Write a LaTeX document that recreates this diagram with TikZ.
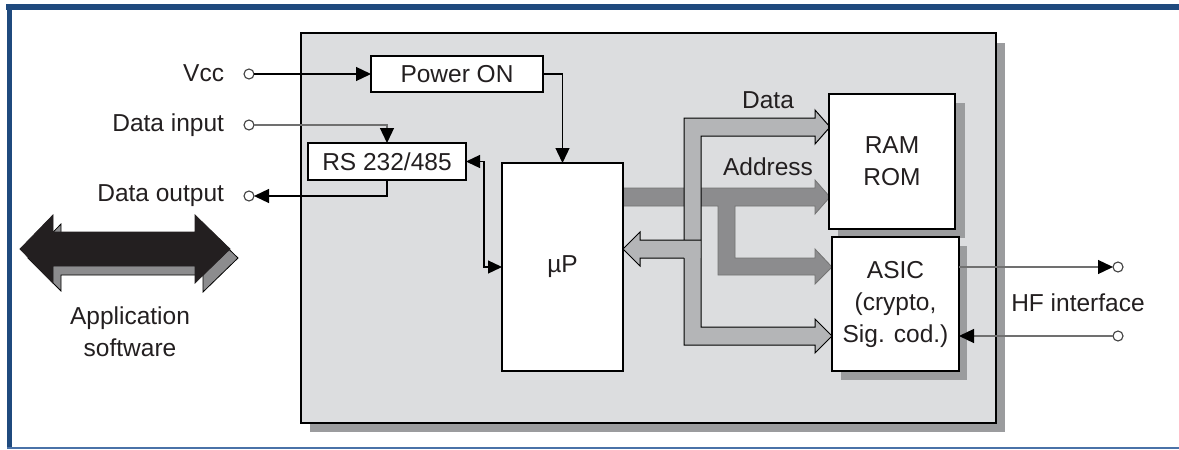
\documentclass[tikz,border=0pt]{standalone}
\usepackage{fontspec}
\setmainfont{Liberation Sans}
\usetikzlibrary{arrows.meta}
\definecolor{frameblue}{HTML}{1F4A7E}
\definecolor{framethin}{HTML}{4A72A8}
\definecolor{boxgrey}{HTML}{DCDDDF}
\definecolor{shadowgrey}{HTML}{9B9C9E}
\definecolor{databus}{HTML}{B4B5B7}
\definecolor{addrbus}{HTML}{8C8C8E}
\definecolor{inkdark}{HTML}{231F20}
\definecolor{wiregrey}{HTML}{707070}
\begin{document}
\begin{tikzpicture}[x=1pt,y=-1pt,
  font=\fontsize{24.5}{32}\selectfont, text=inkdark,
  blk/.style={draw=black, line width=1.3pt, fill=white, inner sep=0pt, outer sep=0pt, align=center},
  port/.style={circle, draw=black!75, line width=1.1pt, fill=white, minimum size=10pt, inner sep=0pt, outer sep=0pt},
  conn/.style={line width=1.3pt, draw=black, -{Triangle[length=15pt,width=14pt]}},
  conngrey/.style={line width=1.3pt, draw=wiregrey, -{Triangle[length=15pt,width=14pt,fill=black,color=black]}},
  lbl/.style={inner sep=0pt, outer sep=0pt}
]
\useasboundingbox (0,0) rectangle (1179,450);
\fill[white] (0,0) rectangle (1179,450);
% frame
\draw[frameblue, line width=6pt] (6,7) -- (1179,7);
\draw[frameblue, line width=5pt] (9.5,4) -- (9.5,448);
\draw[framethin, line width=1.6pt] (7,448) -- (1179,448);
% main grey box
\fill[shadowgrey] (310,43) rectangle (1005,432);
\draw[line width=1.3pt, fill=boxgrey] (301,33) rectangle (996,423);
% shadows of memory / asic
\fill[shadowgrey] (838,103) rectangle (965,238);
\fill[shadowgrey] (841,246) rectangle (967,380);
% address bus
\draw[fill=addrbus, draw=black!55, line width=0.8pt]
  (623,188) -- (815,188) -- (815,180) -- (830,197) -- (815,214) -- (815,206)
  -- (735,206) -- (735,258) -- (815,258) -- (815,249) -- (832,267) -- (815,284)
  -- (815,275) -- (718,275) -- (718,206) -- (623,206) -- cycle;
% data bus trunk
\draw[fill=databus, draw=black, line width=1pt, line join=miter]
  (684,118) -- (815,118) -- (815,110) -- (830,127) -- (815,144) -- (815,136)
  -- (701,136) -- (701,327) -- (815,327) -- (815,319) -- (832,336) -- (815,353)
  -- (815,345) -- (684,345) -- cycle;
% data bus return arrow to uP
\fill[databus] (700.4,240) -- (640,240) -- (640,232) -- (623,249) -- (640,266) -- (640,258) -- (700.4,258) -- cycle;
\draw[black, line width=1pt, line join=miter]
  (701,240) -- (640,240) -- (640,232) -- (623,249) -- (640,266) -- (640,258) -- (684,258);
% application software double arrow
\draw[fill=addrbus, draw=black, line width=0.8pt, line join=miter]
  (28,258) -- (61,224) -- (61,241) -- (203,241) -- (203,224) -- (238,258)
  -- (203,292) -- (203,275) -- (61,275) -- (61,291) -- cycle;
\draw[fill=inkdark, draw=inkdark, line width=0.8pt, line join=miter]
  (20,249) -- (53,215) -- (53,232) -- (195,232) -- (195,215) -- (230,249)
  -- (195,283) -- (195,266) -- (53,266) -- (53,283) -- cycle;
\node[lbl, align=center] (app) at (130,332) {Application\\software};
% blocks
\node[blk, minimum width=172pt, minimum height=36pt] (pwr) at (457,74) {Power ON};
\node[blk, minimum width=158pt, minimum height=37pt] (rs) at (387,161.5) {RS 232/485};
\node[blk, minimum width=121pt, minimum height=208pt] (up) at (562.5,267) {µP};
\node[blk, minimum width=126pt, minimum height=135pt] (ram) at (892,161.5) {RAM\\ROM};
\node[blk, minimum width=127pt, minimum height=134pt] (asic) at (895.5,304) {ASIC\\(crypto,\\Sig. cod.)};
% bus labels
\node[lbl] (ldata) at (768,100) {Data};
\node[lbl] (laddr) at (768,167) {Address};
% ports and labels
\node[port] (vcc) at (249,74) {};
\node[port] (din) at (249,125) {};
\node[port] (dout) at (249,196) {};
\node[port] (hfout) at (1118,267) {};
\node[port] (hfin) at (1118,336) {};
\node[lbl, anchor=east] (lvcc) at (224,73) {Vcc};
\node[lbl, anchor=east] (ldin) at (224,125) {Data input};
\node[lbl, anchor=east] (ldout) at (224,196) {Data output};
\node[lbl] (lhf) at (1078,303) {HF interface};
% connectors
\draw[conn] (vcc) -- (pwr.west);
\draw[conngrey] (din) -| (rs.north);
\draw[conn] (rs.south) |- (dout);
\draw[conn] (pwr.east) -| (up.north);
\draw[line width=1.3pt, draw=black, {Triangle[length=14pt,width=13pt]}-{Triangle[length=14pt,width=13pt]}] (rs.east) -- ++(18,0) |- (up.west);
\draw[conngrey] (asic.east |- hfout) -- (hfout);
\draw[conngrey] (hfin) -- (asic.east |- hfin);
\end{tikzpicture}
\end{document}
